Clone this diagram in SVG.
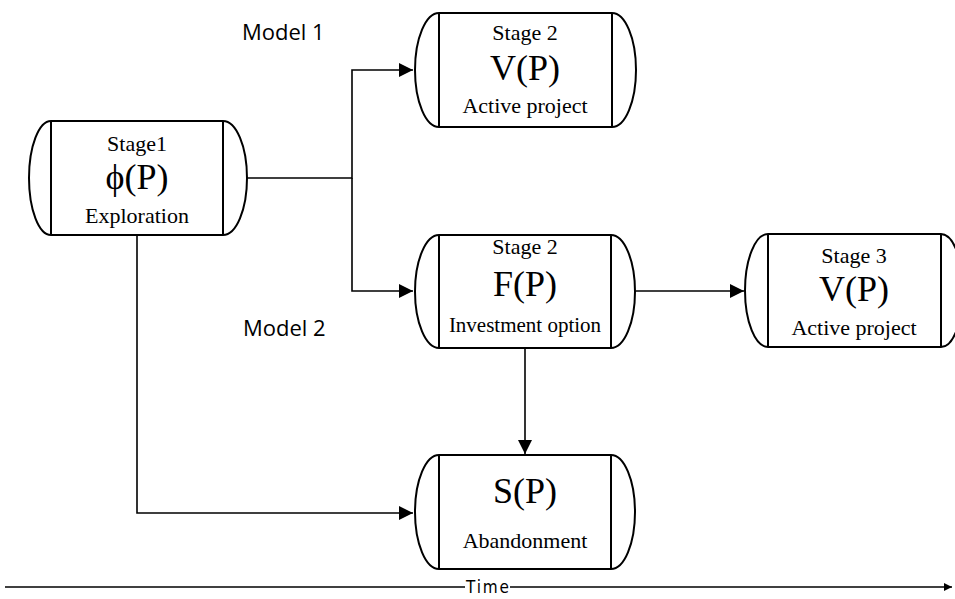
<svg xmlns="http://www.w3.org/2000/svg" width="955" height="599" viewBox="0 0 955 599">
<style>
.shape{fill:#fff;stroke:#000;stroke-width:2}
.inner{fill:none;stroke:#000;stroke-width:2}
.conn{fill:none;stroke:#000;stroke-width:1.6}
.sm{font-family:"Liberation Serif","Times New Roman",serif;font-size:22px;text-anchor:middle;fill:#000}
.big{font-family:"Liberation Serif","Times New Roman",serif;font-size:36px;text-anchor:middle;fill:#000}
.lbl{font-family:"Open Sans","Liberation Sans",Arial,sans-serif;font-size:22px;fill:#000}
.time{font-family:"DejaVu Sans",sans-serif;font-stretch:condensed;font-size:17px;text-anchor:middle;fill:#000}
</style>
<defs>
<marker id="ah" viewBox="0 0 14 14" refX="14" refY="7" markerWidth="14" markerHeight="14" markerUnits="userSpaceOnUse" orient="auto">
<path d="M0,0 L14,7 L0,14 Z" fill="#000"/>
</marker>
<marker id="ah2" viewBox="0 0 10 10" refX="10" refY="5" markerWidth="8" markerHeight="12" markerUnits="userSpaceOnUse" orient="auto">
<path d="M0,0 L10,5 L0,10 Z" fill="#000"/>
</marker>
</defs>

<g id="connectors">
<path class="conn" d="M247,178 H352 V70 H413" marker-end="url(#ah)"/>
<path class="conn" d="M352,178 V291 H413" marker-end="url(#ah)"/>
<path class="conn" d="M636,291 H744" marker-end="url(#ah)"/>
<path class="conn" d="M525,348 V454" marker-end="url(#ah)"/>
<path class="conn" d="M137,235 V513 H413" marker-end="url(#ah)"/>
</g>

<g id="node-stage1">
<path class="shape" d="M51,121 H223 A24,57 0 0 1 223,235 H51 A22,57 0 0 1 51,121 Z"/>
<path class="inner" d="M51,121 V235 M223,121 V235"/>
<text class="sm" x="137" y="151">Stage1</text>
<text class="big" x="137" y="189">ϕ(P)</text>
<text class="sm" x="137" y="223">Exploration</text>
</g>

<g id="node-stage2-active">
<path class="shape" d="M439,13 H612 A24,57 0 0 1 612,127 H439 A24,57 0 0 1 439,13 Z"/>
<path class="inner" d="M439,13 V127 M612,13 V127"/>
<text class="sm" x="525" y="40">Stage 2</text>
<text class="big" x="525" y="80">V(P)</text>
<text class="sm" x="525" y="113">Active project</text>
</g>

<g id="node-stage2-option">
<path class="shape" d="M439,235 H611 A24,56.5 0 0 1 611,348 H439 A24,56.5 0 0 1 439,235 Z"/>
<path class="inner" d="M439,235 V348 M611,235 V348"/>
<text class="sm" x="525" y="254">Stage 2</text>
<text class="big" x="525" y="296">F(P)</text>
<text class="sm" x="525" y="332" style="font-size:21px">Investment option</text>
</g>

<g id="node-stage3">
<path class="shape" d="M768,234 H941 A22,56.5 0 0 1 941,347 H768 A23,56.5 0 0 1 768,234 Z"/>
<path class="inner" d="M768,234 V347 M941,234 V347"/>
<text class="sm" x="854" y="263">Stage 3</text>
<text class="big" x="854" y="301">V(P)</text>
<text class="sm" x="854" y="335">Active project</text>
</g>

<g id="node-abandon">
<path class="shape" d="M439,455 H611 A24,57 0 0 1 611,569 H439 A24,57 0 0 1 439,455 Z"/>
<path class="inner" d="M439,455 V569 M611,455 V569"/>
<text class="big" x="525" y="503">S(P)</text>
<text class="sm" x="525" y="548">Abandonment</text>
</g>

<g id="labels">
<text class="lbl" x="242" y="40">Model 1</text>
<text class="lbl" x="243" y="336">Model 2</text>
</g>

<g id="time-axis">
<path class="conn" d="M5,587 H465"/>
<path class="conn" d="M510,587 H952" marker-end="url(#ah2)"/>
<text class="time" x="487.5" y="593" textLength="43">Time</text>
</g>
</svg>
